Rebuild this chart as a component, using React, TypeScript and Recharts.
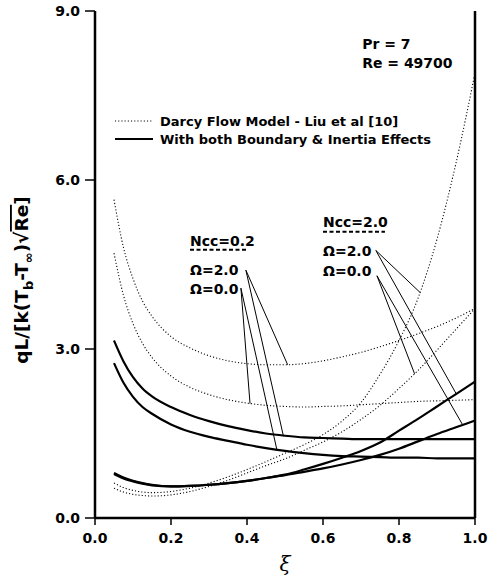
import React from "react"
import { LineChart, Line, XAxis, YAxis, ReferenceLine, ReferenceDot, Legend } from "recharts"

// xi positions shared by every curve
const xi = [0.05, 0.075, 0.1, 0.125, 0.15, 0.2, 0.25, 0.3, 0.35, 0.4, 0.45, 0.5, 0.55, 0.6, 0.65, 0.7, 0.75, 0.8, 0.85, 0.9, 0.95, 1.0]

// Darcy flow model (dotted)
const darcyN02W2 = [5.65, 4.8, 4.25, 3.85, 3.58, 3.22, 3.02, 2.88, 2.79, 2.74, 2.72, 2.72, 2.74, 2.79, 2.86, 2.94, 3.04, 3.15, 3.27, 3.4, 3.55, 3.72]
const darcyN02W0 = [4.7, 3.95, 3.45, 3.1, 2.85, 2.52, 2.32, 2.19, 2.1, 2.04, 2.0, 1.98, 1.97, 1.98, 1.99, 2.01, 2.03, 2.05, 2.07, 2.08, 2.09, 2.1]
const darcyN20W2 = [0.62, 0.54, 0.49, 0.46, 0.45, 0.47, 0.53, 0.62, 0.73, 0.86, 1.0, 1.15, 1.3, 1.48, 1.72, 2.05, 2.55, 3.15, 3.9, 4.95, 6.3, 7.9]
const darcyN20W0 = [0.53, 0.46, 0.42, 0.4, 0.39, 0.41, 0.47, 0.56, 0.67, 0.8, 0.93, 1.05, 1.2, 1.35, 1.53, 1.75, 2.0, 2.3, 2.62, 2.98, 3.35, 3.72]

// boundary & inertia effects (solid)
const fullN02W2 = [3.15, 2.78, 2.5, 2.3, 2.16, 1.97, 1.83, 1.72, 1.63, 1.56, 1.5, 1.46, 1.43, 1.42, 1.41, 1.4, 1.4, 1.4, 1.4, 1.4, 1.4, 1.4]
const fullN02W0 = [2.75, 2.4, 2.15, 1.97, 1.85, 1.66, 1.53, 1.44, 1.37, 1.3, 1.24, 1.19, 1.15, 1.12, 1.1, 1.09, 1.08, 1.07, 1.07, 1.06, 1.06, 1.06]
const fullN20W2 = [0.8, 0.72, 0.66, 0.62, 0.59, 0.56, 0.57, 0.59, 0.62, 0.66, 0.71, 0.77, 0.86, 0.96, 1.07, 1.19, 1.34, 1.55, 1.76, 1.98, 2.2, 2.42]
const fullN20W0 = [0.78, 0.7, 0.65, 0.61, 0.58, 0.56, 0.57, 0.59, 0.62, 0.66, 0.71, 0.76, 0.82, 0.88, 0.95, 1.03, 1.12, 1.23, 1.36, 1.49, 1.61, 1.73]

const xTicks = [0, 0.2, 0.4, 0.6, 0.8, 1.0]
const yTicks = [0, 3, 6, 9]

// annotation text, in data units
const noteText = ["Ncc=0.2", "\u03A9=2.0", "\u03A9=0.0", "Ncc=2.0", "\u03A9=2.0", "\u03A9=0.0", "Pr = 7", "Re = 49700"]
const noteXi = [0.25, 0.25, 0.25, 0.6, 0.6, 0.6, 0.703, 0.703]
const noteY = [4.92, 4.4, 4.07, 5.25, 4.74, 4.38, 8.41, 8.08]

// leader lines: label anchor -> curve
const leaders = [
  [0.397, 4.4, 0.507, 2.72],
  [0.397, 4.4, 0.496, 1.45],
  [0.384, 4.08, 0.408, 2.03],
  [0.384, 4.08, 0.479, 1.2],
  [0.739, 4.75, 0.856, 4.0],
  [0.739, 4.75, 0.951, 2.2],
  [0.742, 4.3, 0.841, 2.56],
  [0.742, 4.3, 0.967, 1.66],
]
const underlines = [
  [0.25, 4.76, 0.403],
  [0.6, 5.08, 0.763],
]

const rows = xi.map((x, i) => ({
  xi: x,
  d1: darcyN02W2[i],
  d2: darcyN02W0[i],
  d3: darcyN20W2[i],
  d4: darcyN20W0[i],
  s1: fullN02W2[i],
  s2: fullN02W0[i],
  s3: fullN20W2[i],
  s4: fullN20W0[i],
}))

const FONT = "DejaVu Sans"
const DOT = "1.1 2.1"

function LegendBox() {
  const row = { display: "flex", alignItems: "center", height: 18 }
  return (
    <div style={{ fontFamily: FONT, fontSize: 13, fontWeight: "bold", color: "#000", whiteSpace: "nowrap" }}>
      <div style={row}>
        <svg width={38} height={18}>
          <line x1={0} y1={9} x2={38} y2={9} stroke="#000" strokeWidth={1.1} strokeDasharray={DOT} />
        </svg>
        <span style={{ marginLeft: 7 }}>Darcy Flow Model - Liu et al [10]</span>
      </div>
      <div style={row}>
        <svg width={38} height={18}>
          <line x1={0} y1={9} x2={38} y2={9} stroke="#000" strokeWidth={2.2} />
        </svg>
        <span style={{ marginLeft: 7 }}>With both Boundary &amp; Inertia Effects</span>
      </div>
    </div>
  )
}

function YTitle() {
  return (
    <text
      transform="translate(28,280) rotate(-90)"
      textAnchor="middle"
      fontFamily={FONT}
      fontWeight="bold"
      fontSize={18.5}
      fill="#000"
    >
      qL/[k(T<tspan dy={5} fontSize={13}>b</tspan>
      <tspan dy={-5}>-T</tspan>
      <tspan dy={5} fontSize={13}>{"\u221E"}</tspan>
      <tspan dy={-5}>){"\u221A"}</tspan>
      <tspan style={{ textDecoration: "overline" }}>Re</tspan>]
    </text>
  )
}

function XTitle() {
  return (
    <text x={285} y={571} textAnchor="middle" fontFamily="DejaVu Serif" fontStyle="italic" fontSize={20} fill="#000">
      {"\u03BE"}
    </text>
  )
}

export default function App() {
  const tickStyle = { fill: "#000", fontSize: 14, fontFamily: FONT, fontWeight: "bold" as const }
  return (
    <div style={{ position: "absolute", left: 0, top: 0, background: "#fff" }}>
      <LineChart width={488} height={578} data={rows} margin={{ top: 11, right: 13, bottom: 0, left: 0 }}>
        <XAxis
          dataKey="xi"
          type="number"
          domain={[0, 1]}
          ticks={xTicks}
          tickFormatter={(v: number) => v.toFixed(1)}
          height={60}
          tickSize={7}
          tickMargin={8}
          axisLine={{ stroke: "#000", strokeWidth: 2.5 }}
          tickLine={{ stroke: "#000", strokeWidth: 1.5 }}
          tick={tickStyle}
          label={{ content: () => <XTitle /> }}
        />
        <YAxis
          type="number"
          domain={[0, 9]}
          ticks={yTicks}
          tickFormatter={(v: number) => v.toFixed(1)}
          width={95}
          tickSize={10}
          tickMargin={5}
          axisLine={{ stroke: "#000", strokeWidth: 2.5 }}
          tickLine={{ stroke: "#000", strokeWidth: 1.5 }}
          tick={tickStyle}
          label={{ content: () => <YTitle /> }}
        />
        <ReferenceLine x={1} stroke="#000" strokeWidth={2.5} />
        <Legend
          layout="horizontal"
          verticalAlign="middle"
          align="center"
          wrapperStyle={{ top: 112, left: 115, width: "auto" }}
          content={() => <LegendBox />}
        />

        <Line dataKey="d1" type="monotone" stroke="#000" strokeWidth={1.1} strokeDasharray={DOT} dot={false} isAnimationActive={false} />
        <Line dataKey="d2" type="monotone" stroke="#000" strokeWidth={1.1} strokeDasharray={DOT} dot={false} isAnimationActive={false} />
        <Line dataKey="d3" type="monotone" stroke="#000" strokeWidth={1.1} strokeDasharray={DOT} dot={false} isAnimationActive={false} />
        <Line dataKey="d4" type="monotone" stroke="#000" strokeWidth={1.1} strokeDasharray={DOT} dot={false} isAnimationActive={false} />
        <Line dataKey="s1" type="monotone" stroke="#000" strokeWidth={2.2} dot={false} isAnimationActive={false} />
        <Line dataKey="s2" type="monotone" stroke="#000" strokeWidth={2.2} dot={false} isAnimationActive={false} />
        <Line dataKey="s3" type="monotone" stroke="#000" strokeWidth={2.2} dot={false} isAnimationActive={false} />
        <Line dataKey="s4" type="monotone" stroke="#000" strokeWidth={2.2} dot={false} isAnimationActive={false} />

        {leaders.map((l, i) => (
          <ReferenceLine
            key={"ld" + i}
            segment={[{ x: l[0], y: l[1] }, { x: l[2], y: l[3] }]}
            stroke="#000"
            strokeWidth={1}
          />
        ))}
        {underlines.map((u, i) => (
          <ReferenceLine
            key={"ul" + i}
            segment={[{ x: u[0], y: u[1] }, { x: u[2], y: u[1] }]}
            stroke="#000"
            strokeWidth={2}
            strokeDasharray="4 2.5"
          />
        ))}
        {noteText.map((t, i) => (
          <ReferenceDot
            key={"nt" + i}
            x={noteXi[i]}
            y={noteY[i]}
            r={0}
            shape={(p: any) => (
              <text x={p.cx} y={p.cy} dominantBaseline="central" fontFamily={FONT} fontWeight="bold" fontSize={14} fill="#000">
                {t}
              </text>
            )}
          />
        ))}
      </LineChart>
    </div>
  )
}
